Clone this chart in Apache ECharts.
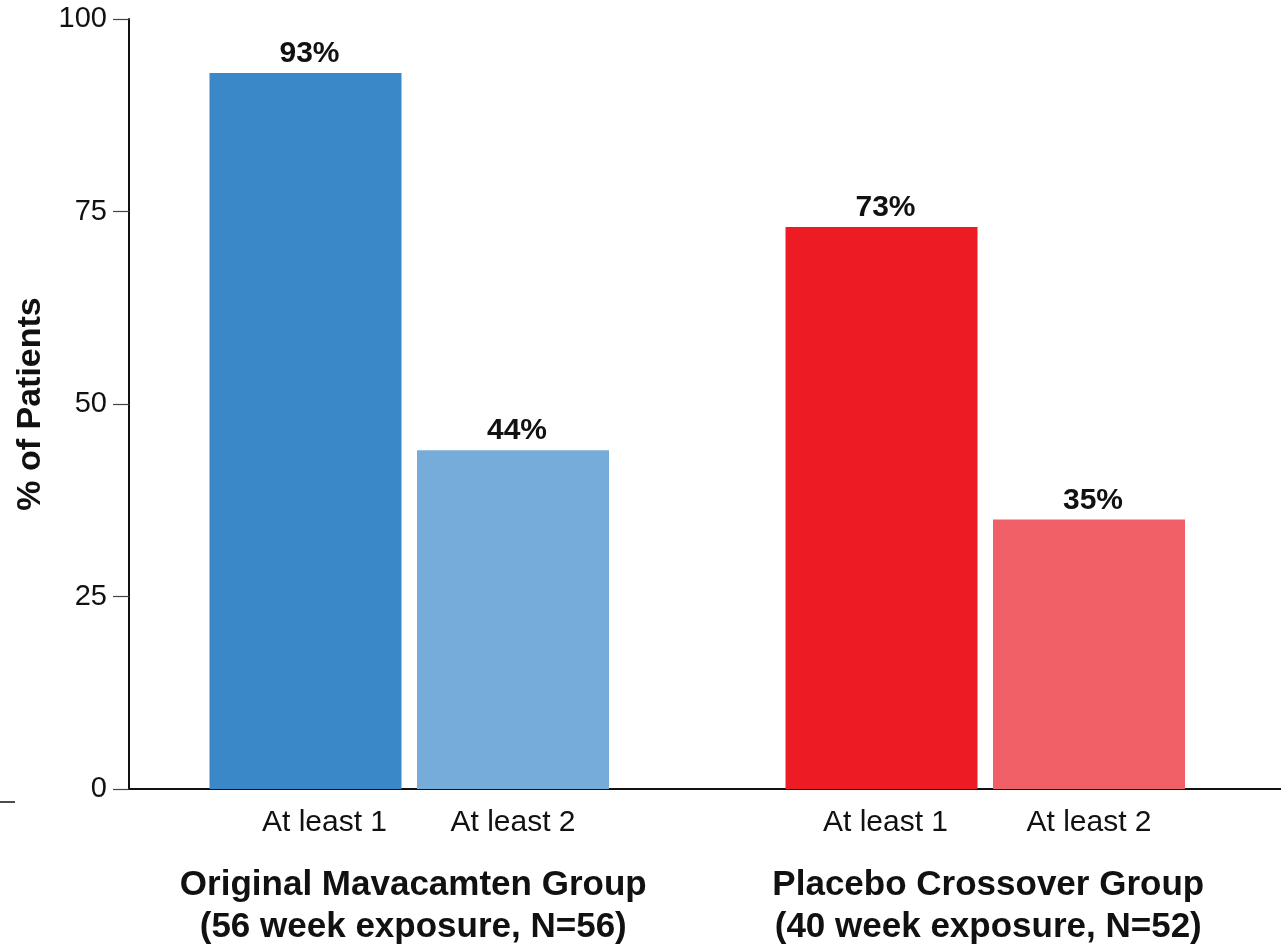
<!DOCTYPE html>
<html>
<head>
<meta charset="utf-8">
<title>% of Patients</title>
<script src="https://cdn.jsdelivr.net/npm/echarts@6/dist/echarts.min.js"></script>
<style>
  html, body { margin: 0; padding: 0; background: #fff; }
  #chart { width: 1281px; height: 947px; }
</style>
</head>
<body>
<div id="chart"></div>
<script>
// Responder categories shared by both treatment groups
const categories = ['At least 1', 'At least 2'];

// Group titles (two lines each)
const groupTitles = [
  'Original Mavacamten Group\n(56 week exposure, N=56)',
  'Placebo Crossover Group\n(40 week exposure, N=52)'
];

// Percent of patients per category
const mavacamtenValues = [93, 44];
const crossoverValues = [73, 35];

// Bar fills: darker for "at least 1", lighter for "at least 2"
const mavacamtenColors = ['#3B88C8', '#76ACD9'];
const crossoverColors = ['#ED1C24', '#F15F67'];

// Value axis ticks
const yMin = 0, yMax = 100, yStep = 25;

const FONT = '"Liberation Sans", Arial, Helvetica, sans-serif';
const TOP = 19, BOTTOM = 158;

function groupItems(values, colors) {
  return values.map((v, i) => ({ value: v, itemStyle: { color: colors[i] } }));
}

function barSeries(idx, values, colors) {
  return {
    type: 'bar',
    xAxisIndex: idx,
    yAxisIndex: idx,
    barWidth: 192,
    data: groupItems(values, colors),
    label: {
      show: true,
      position: 'top',
      distance: 4,
      offset: [4, 0],
      formatter: '{c}%',
      color: '#111',
      fontFamily: FONT,
      fontWeight: 'bold',
      fontSize: 30
    },
    silent: true,
    animation: false
  };
}

// Category labels; each shift nudges that label's centre to the right
function categoryData(shifts) {
  return categories.map((c, i) => ({
    value: c,
    textStyle: { padding: [0, 0, 0, shifts[i] * 2] }
  }));
}

function groupXAxis(gridIndex, title, shift, labelShifts) {
  return {
    type: 'category',
    gridIndex: gridIndex,
    data: categoryData(labelShifts),
    axisLine: { show: false },
    axisTick: { show: false },
    axisLabel: { color: '#111', fontFamily: FONT, fontSize: 30, margin: 19 },
    name: title,
    nameLocation: 'middle',
    nameGap: 75,
    nameTextStyle: {
      color: '#111', fontFamily: FONT, fontWeight: 'bold', fontSize: 35,
      lineHeight: 42, padding: [0, 0, 0, shift]
    }
  };
}

function hiddenYAxis(gridIndex) {
  return {
    type: 'value', gridIndex: gridIndex, min: yMin, max: yMax, interval: yStep,
    show: false
  };
}

function gridBox(extra) {
  return Object.assign({ top: TOP, bottom: BOTTOM, containLabel: false, outerBoundsMode: 'none' }, extra);
}

const chart = echarts.init(document.getElementById('chart'), null, { renderer: 'canvas' });

chart.setOption({
  backgroundColor: '#ffffff',
  animation: false,
  grid: [
    gridBox({ left: 129, right: 0 }),
    gridBox({ left: 201.75, width: 415 }),
    gridBox({ left: 777.75, width: 415 })
  ],
  xAxis: [
    {
      type: 'value', gridIndex: 0, min: 0, max: 1,
      axisLine: { show: true, lineStyle: { color: '#111', width: 2 } },
      axisTick: { show: false }, axisLabel: { show: false }, splitLine: { show: false }
    },
    groupXAxis(1, groupTitles[0], 8, [19, 0]),
    groupXAxis(2, groupTitles[1], 6, [4, 0])
  ],
  yAxis: [
    {
      type: 'value', gridIndex: 0, min: yMin, max: yMax, interval: yStep,
      axisLine: { show: true, lineStyle: { color: '#111', width: 2 } },
      axisTick: { show: true, length: 16, lineStyle: { color: '#444', width: 1.2 } },
      axisLabel: { color: '#111', fontFamily: FONT, fontSize: 29, margin: 22, padding: [4, 0, 0, 0] },
      splitLine: { show: false },
      name: '% of Patients',
      nameLocation: 'middle',
      nameRotate: 90,
      nameGap: 74,
      nameTextStyle: { color: '#111', fontFamily: FONT, fontWeight: 'bold', fontSize: 34 }
    },
    hiddenYAxis(1),
    hiddenYAxis(2)
  ],
  graphic: [
    {
      type: 'line', silent: true,
      shape: { x1: 0, y1: 802, x2: 15, y2: 802 },
      style: { stroke: '#111', lineWidth: 1.5 }
    }
  ],
  series: [
    barSeries(1, mavacamtenValues, mavacamtenColors),
    barSeries(2, crossoverValues, crossoverColors)
  ]
});
</script>
</body>
</html>
